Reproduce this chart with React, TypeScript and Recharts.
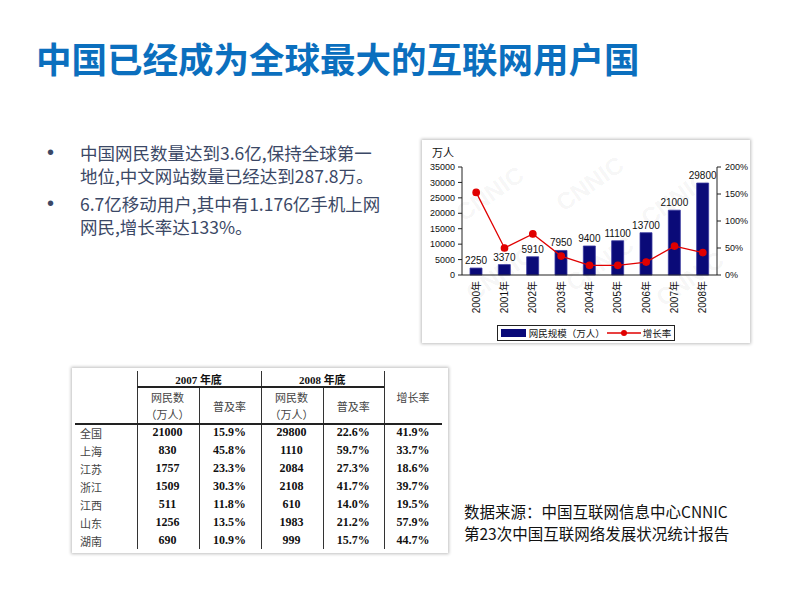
import React from 'react';
import { ComposedChart, Bar, Line, XAxis, YAxis, LabelList, Legend } from 'recharts';

const years = ['2000年', '2001年', '2002年', '2003年', '2004年', '2005年', '2006年', '2007年', '2008年'];
const netUsers = [2250, 3370, 5910, 7950, 9400, 11100, 13700, 21000, 29800];
const growthRate = [1.53, 0.5, 0.76, 0.35, 0.18, 0.18, 0.24, 0.535, 0.415];
const leftTicks = [0, 5000, 10000, 15000, 20000, 25000, 30000, 35000];
const rightTicks = [0, 0.5, 1, 1.5, 2];

const regions = ['全国', '上海', '江苏', '浙江', '江西', '山东', '湖南'];
const users2007 = ['21000', '830', '1757', '1509', '511', '1256', '690'];
const pen2007 = ['15.9%', '45.8%', '23.3%', '30.3%', '11.8%', '13.5%', '10.9%'];
const users2008 = ['29800', '1110', '2084', '2108', '610', '1983', '999'];
const pen2008 = ['22.6%', '59.7%', '27.3%', '41.7%', '14.0%', '21.2%', '15.7%'];
const regionGrowth = ['41.9%', '33.7%', '18.6%', '39.7%', '19.5%', '57.9%', '44.7%'];

const bulletLines = [
  ['中国网民数量达到3.6亿,保持全球第一', '地位,中文网站数量已经达到287.8万。'],
  ['6.7亿移动用户,其中有1.176亿手机上网', '网民,增长率达133%。'],
];
const sourceLines = ['数据来源：中国互联网信息中心CNNIC', '第23次中国互联网络发展状况统计报告'];

const data = years.map((y, i) => ({ year: y, users: netUsers[i], rate: growthRate[i] }));

const CJK = '"Noto Sans CJK SC", "Noto Sans", sans-serif';
const AX = '"Liberation Sans", Arial, "Noto Sans CJK SC", sans-serif';
const SERIF = '"Liberation Serif", "Times New Roman", "Noto Sans CJK SC", serif';

const XTick = (props: any) => {
  const { x, y, payload } = props;
  return (
    <text
      x={x}
      y={y}
      transform={`rotate(-90, ${x}, ${y})`}
      textAnchor="end"
      dominantBaseline="central"
      fontSize={10}
      fontFamily={AX}
      fill="#111"
    >
      {payload.value}
    </text>
  );
};

const LegendBox = () => (
  <div style={{ height: 18, display: 'flex', justifyContent: 'center' }}>
    <div
      style={{
        height: 14,
        padding: '0 3px',
        border: '1px solid #222',
        display: 'flex',
        alignItems: 'center',
        fontFamily: CJK,
        fontSize: 9.5,
        lineHeight: '14px',
        color: '#111',
        background: '#fff',
        whiteSpace: 'nowrap',
      }}
    >
      <div style={{ width: 25, height: 8, background: '#0A0A78', marginRight: 3, flexShrink: 0 }} />
      <span style={{ flexShrink: 0 }}>网民规模（万人）</span>
      <svg width={34} height={10} style={{ marginLeft: 2, flexShrink: 0 }}>
        <line x1={0} y1={5} x2={34} y2={5} stroke="#E00000" strokeWidth={1.5} />
        <circle cx={17} cy={5} r={3} fill="#E00000" />
      </svg>
      <span style={{ marginLeft: 2, flexShrink: 0 }}>增长率</span>
    </div>
  </div>
);

const watermarks = [
  [30, 40], [130, 30], [215, 45], [40, 120], [140, 110], [230, 125],
];

export default function App() {
  const colX = [75, 136.5, 198.5, 260.5, 322.5, 384, 442];
  const cellBase: React.CSSProperties = {
    position: 'absolute',
    display: 'flex',
    alignItems: 'center',
    justifyContent: 'center',
    color: '#111',
  };
  const rowTop = 423.5;
  const rowH = 18;
  return (
    <div style={{ position: 'absolute', left: 0, top: 0, width: 800, height: 600, background: '#fff', overflow: 'hidden' }}>
      <div
        style={{
          position: 'absolute',
          left: 36,
          top: 36,
          fontFamily: CJK,
          fontWeight: 700,
          fontSize: 35.5,
          lineHeight: '44px',
          color: '#0B6FBE',
          whiteSpace: 'nowrap',
        }}
      >
        中国已经成为全球最大的互联网用户国
      </div>

      {bulletLines.map((lines, bi) => (
        <div key={bi} style={{ position: 'absolute', left: 47, top: bi === 0 ? 140 : 191, fontFamily: CJK, color: '#3B4866' }}>
          <div style={{ position: 'absolute', left: 0, top: 0, fontSize: 20, lineHeight: '25px', fontFamily: AX }}>•</div>
          {lines.map((t, li) => (
            <div
              key={li}
              style={{ position: 'absolute', left: 33, top: li * 23, fontSize: 17.5, lineHeight: '25px', whiteSpace: 'nowrap' }}
            >
              {t}
            </div>
          ))}
        </div>
      ))}

      <div
        style={{
          position: 'absolute',
          left: 422,
          top: 140,
          width: 328,
          height: 203,
          background: '#fff',
          boxShadow: '0 0 3px 1px rgba(0,0,0,0.25)',
          overflow: 'hidden',
        }}
      >
        {watermarks.map(([x, y], i) => (
          <div
            key={i}
            style={{
              position: 'absolute',
              left: x,
              top: y,
              fontFamily: AX,
              fontWeight: 700,
              fontSize: 24,
              color: 'rgba(0,0,0,0.05)',
              transform: 'rotate(-35deg)',
              whiteSpace: 'nowrap',
            }}
          >
            CNNIC
          </div>
        ))}
        <div style={{ position: 'absolute', left: 10, top: 4, fontFamily: CJK, fontSize: 11, color: '#111' }}>万人</div>
        <div style={{ position: 'absolute', left: 0, top: 0 }}>
          <ComposedChart width={328} height={205} data={data} margin={{ top: 27, right: 0, left: 0, bottom: 2 }}>
            <XAxis
              dataKey="year"
              interval={0}
              height={50}
              tickSize={0}
              tickMargin={6}
              tick={<XTick />}
              axisLine={{ stroke: '#222' }}
              tickLine={false}
            />
            <YAxis
              yAxisId="left"
              orientation="left"
              width={40}
              domain={[0, 35000]}
              ticks={leftTicks}
              interval={0}
              tickSize={4}
              tickMargin={3}
              axisLine={{ stroke: '#222' }}
              tickLine={{ stroke: '#222' }}
              tick={{ fontSize: 9, fontFamily: AX, fill: '#111' }}
            />
            <YAxis
              yAxisId="right"
              orientation="right"
              width={33}
              domain={[0, 2]}
              ticks={rightTicks}
              interval={0}
              tickSize={4}
              tickMargin={4}
              axisLine={{ stroke: '#222' }}
              tickLine={{ stroke: '#222' }}
              tickFormatter={(v: number) => `${Math.round(v * 100)}%`}
              tick={{ fontSize: 9, fontFamily: AX, fill: '#111' }}
            />
            <Bar yAxisId="left" dataKey="users" name="网民规模（万人）" fill="#0A0A78" stroke="#3A3AA0" strokeWidth={0.8} barSize={12} isAnimationActive={false}>
              <LabelList dataKey="users" position="top" offset={4} style={{ fontSize: 10, fontFamily: AX, fill: '#111' }} />
            </Bar>
            <Line
              yAxisId="right"
              type="linear"
              dataKey="rate"
              name="增长率"
              stroke="#E00000"
              strokeWidth={1.3}
              dot={{ r: 3.2, fill: '#E00000', stroke: '#E00000' }}
              isAnimationActive={false}
            />
            <Legend verticalAlign="bottom" align="center" content={() => <LegendBox />} />
          </ComposedChart>
        </div>
      </div>

      <div
        style={{
          position: 'absolute',
          left: 72,
          top: 368,
          width: 376,
          height: 185,
          background: '#fff',
          boxShadow: '0 0 3px 1px rgba(0,0,0,0.25)',
        }}
      />
      <div style={{ position: 'absolute', left: 0, top: 0, width: 800, height: 600, fontSize: 11 }}>
        {colX.slice(1, 6).map((x, i) => (
          <div
            key={i}
            style={{
              position: 'absolute',
              left: x,
              top: i === 1 || i === 3 ? 387 : 371,
              width: 1,
              height: i === 1 || i === 3 ? 162 : 178,
              background: '#333',
            }}
          />
        ))}
        <div style={{ position: 'absolute', left: 136.5, top: 386, width: 247.5, height: 2, background: '#222' }} />
        <div style={{ position: 'absolute', left: 75, top: 423, width: 367, height: 1.5, background: '#222' }} />
        <div style={{ ...cellBase, left: colX[1], top: 371, width: colX[3] - colX[1], height: 16, fontFamily: SERIF, fontWeight: 700 }}>
          2007 年底
        </div>
        <div style={{ ...cellBase, left: colX[3], top: 371, width: colX[5] - colX[3], height: 16, fontFamily: SERIF, fontWeight: 700 }}>
          2008 年底
        </div>
        {[1, 3].map((c) => (
          <div
            key={c}
            style={{
              ...cellBase,
              left: colX[c],
              top: 388,
              width: colX[c + 1] - colX[c],
              height: 35,
              flexDirection: 'column',
              fontFamily: CJK,
              lineHeight: '17px',
              color: '#444',
            }}
          >
            <div>网民数</div>
            <div>（万人）</div>
          </div>
        ))}
        {[2, 4].map((c) => (
          <div key={c} style={{ ...cellBase, left: colX[c], top: 388, width: colX[c + 1] - colX[c], height: 35, fontFamily: CJK, color: '#444' }}>
            普及率
          </div>
        ))}
        <div style={{ ...cellBase, left: colX[5], top: 371, width: colX[6] - colX[5], height: 52, fontFamily: CJK, color: '#444' }}>
          增长率
        </div>
        {regions.map((r, i) => {
          const top = rowTop + i * rowH;
          const vals = [users2007[i], pen2007[i], users2008[i], pen2008[i], regionGrowth[i]];
          return (
            <React.Fragment key={r}>
              <div style={{ ...cellBase, justifyContent: 'flex-start', left: 80, top, width: 55, height: rowH, fontFamily: CJK, color: '#444' }}>
                {r}
              </div>
              {vals.map((v, j) => (
                <div
                  key={j}
                  style={{
                    ...cellBase,
                    left: colX[j + 1],
                    top,
                    width: colX[j + 2] - colX[j + 1],
                    height: rowH,
                    fontFamily: SERIF,
                    fontWeight: 700,
                    fontSize: 12,
                  }}
                >
                  {v}
                </div>
              ))}
            </React.Fragment>
          );
        })}
      </div>

      {sourceLines.map((t, i) => (
        <div
          key={i}
          style={{
            position: 'absolute',
            left: 464,
            top: 500 + i * 22,
            fontFamily: CJK,
            fontSize: 15.5,
            lineHeight: '22px',
            color: '#111',
            whiteSpace: 'nowrap',
          }}
        >
          {t}
        </div>
      ))}
    </div>
  );
}
